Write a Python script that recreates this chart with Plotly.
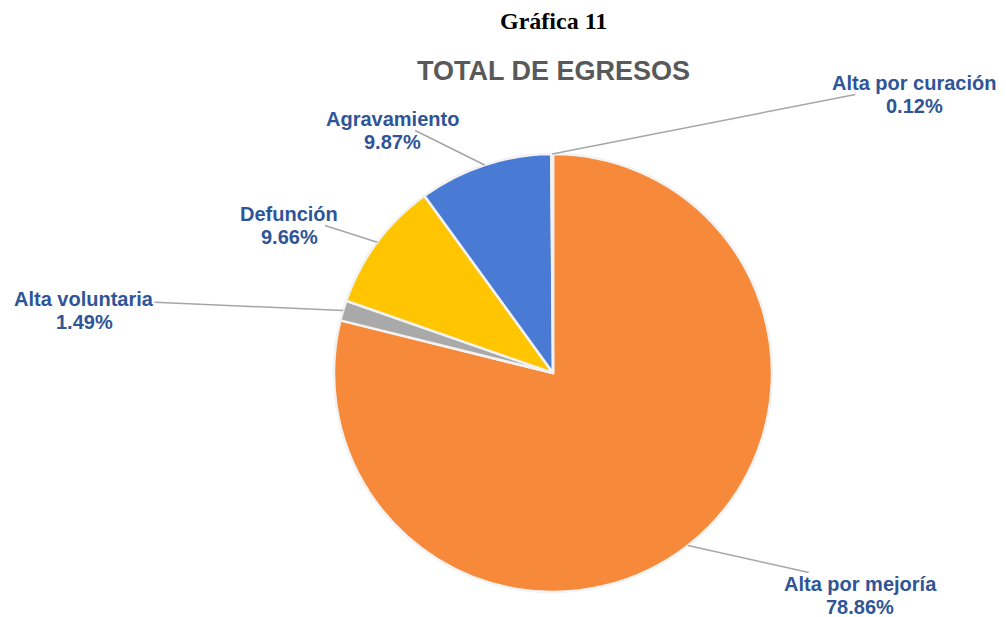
import math
import plotly.graph_objects as go

categories = ["Alta por mejoría", "Alta voluntaria", "Defunción", "Agravamiento", "Alta por curación"]
values = [78.86, 1.49, 9.66, 9.87, 0.12]
colors = ["#F7893B", "#A9A9A9", "#FFC501", "#4A7BD4", "#555555"]
# label name-line centre positions (pixels) for each category
label_pos = [(860, 584), (84, 299), (289, 214), (392, 119), (914, 83)]
line_gap = 23

W, H = 1006, 617
cx, cy, R = 553, 373, 219  # pie centre / radius in pixels

fig = go.Figure()
fig.add_trace(go.Pie(
    labels=categories, values=values, sort=False, direction="clockwise", rotation=0,
    marker=dict(colors=colors, line=dict(color="#F2F2F2", width=2.5)),
    textinfo="none", hoverinfo="label+percent", showlegend=False,
    domain=dict(x=[(cx - R) / W, (cx + R) / W], y=[(H - cy - R) / H, (H - cy + R) / H]),
))

lab_font = dict(family="Liberation Sans, Arial", size=20, color="#2F5597")
total = sum(values)
cum = 0
annotations = []
for cat, v, (tx, ty) in zip(categories, values, label_pos):
    mid = (cum + v / 2) / total * 2 * math.pi
    cum += v
    px = cx + R * math.sin(mid)
    py = cy - R * math.cos(mid)
    annotations.append(dict(
        x=px / W, y=1 - py / H, xref="paper", yref="paper",
        ax=tx - px, ay=ty - py, axref="pixel", ayref="pixel",
        text=f"<b>{cat}</b>", borderpad=0,
        showarrow=True, arrowhead=0, arrowwidth=1.5, arrowcolor="#A6A6A6",
        font=lab_font, align="center",
    ))
    annotations.append(dict(
        x=tx / W, y=1 - (ty + line_gap) / H, xref="paper", yref="paper",
        xanchor="center", yanchor="middle", borderpad=0,
        text=f"<b>{v:.2f}%</b>", showarrow=False, font=lab_font,
    ))

annotations.append(dict(text="<b>Gráfica 11</b>", x=553 / W, y=1 - 21 / H, xref="paper", yref="paper",
                        xanchor="center", yanchor="middle", showarrow=False,
                        font=dict(family="Liberation Serif, Times New Roman", size=24, color="#000000")))
annotations.append(dict(text="<b>TOTAL DE EGRESOS</b>", x=553 / W, y=1 - 71 / H, xref="paper", yref="paper",
                        xanchor="center", yanchor="middle", showarrow=False,
                        font=dict(family="Liberation Sans, Arial", size=27, color="#595959")))

fig.update_layout(
    width=W, height=H, margin=dict(l=0, r=0, t=0, b=0),
    paper_bgcolor="#FFFFFF", plot_bgcolor="#FFFFFF",
    annotations=annotations,
)
fig.write_html("out.html", config={"displayModeBar": False},
               post_script="document.body.style.margin='0';")
